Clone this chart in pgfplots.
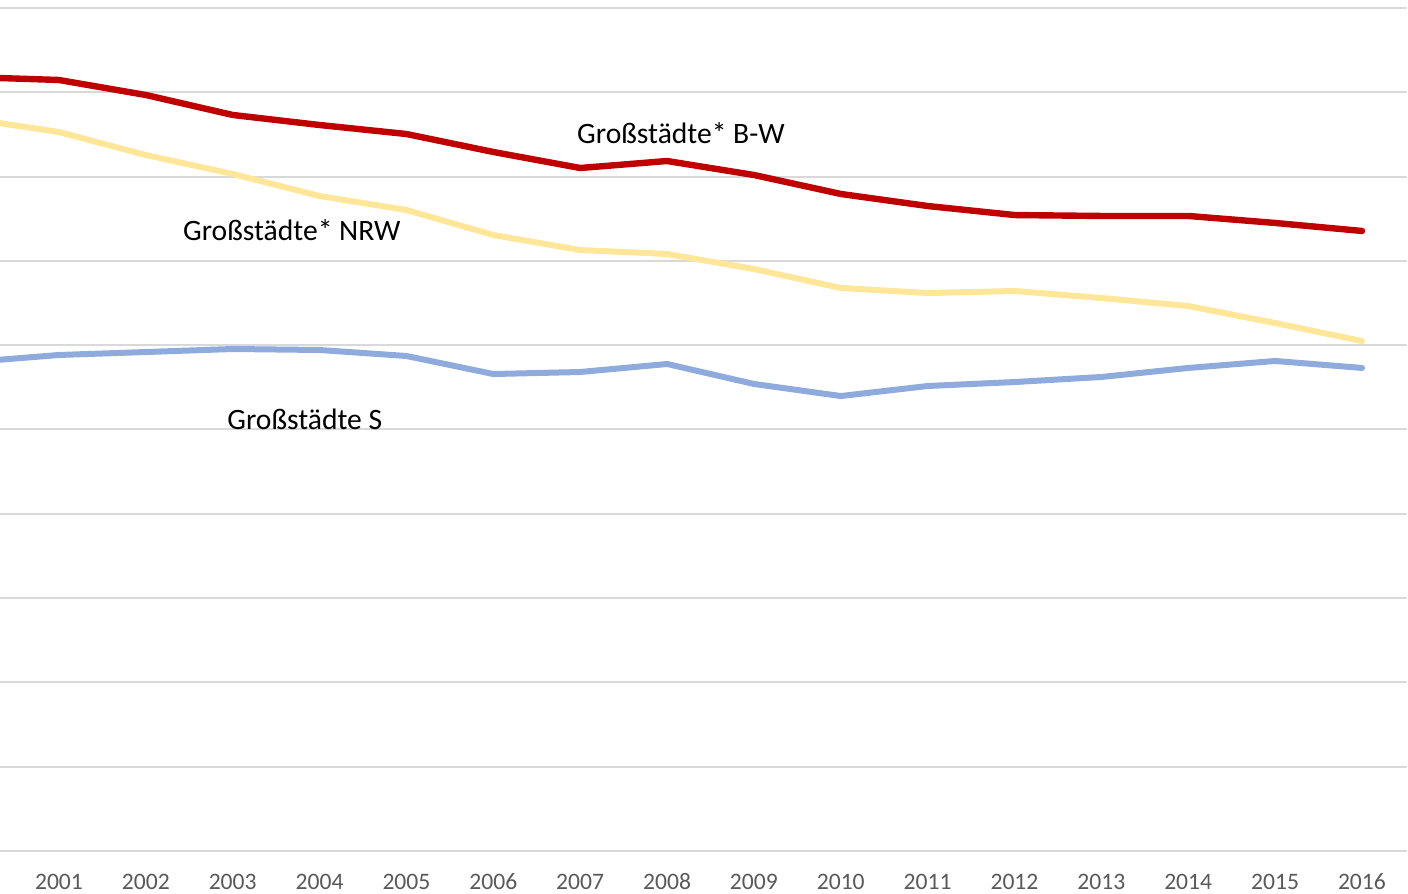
\documentclass[border=0pt]{standalone}
\usepackage{fontspec}
\setmainfont{Carlito}
\usepackage{pgfplots}
\pgfplotsset{compat=1.18}
\definecolor{bwred}{HTML}{C00000}
\definecolor{nrwyel}{HTML}{FFE699}
\definecolor{sblue}{HTML}{8FAADC}
\definecolor{gridgray}{HTML}{D9D9D9}
\definecolor{ticktext}{HTML}{595959}
\begin{document}
\begin{tikzpicture}
\begin{axis}[
    scale only axis,
    width=703pt, height=425.5pt,
    xmin=2000.321, xmax=2016.506,
    ymin=0, ymax=100.95,
    axis line style={draw=none},
    ytick={0,10,...,100},
    xtick={2001,...,2016},
    ymajorgrids,
    grid style={gridgray, line width=1pt},
    major tick length=0pt,
    tick style={draw=none},
    yticklabels={},
    xticklabel style={anchor=center, yshift=-15.5pt, font=\fontsize{11.8}{12}\selectfont, text=ticktext},
    /pgf/number format/assume math mode=true,
    /pgf/number format/1000 sep={},
    line join=round, line cap=round,
]
% Groszstaedte* B-W
\addplot[bwred, line width=3.2pt] coordinates {
 (2000,91.8) (2001,91.46) (2002,89.68) (2003,87.31) (2004,86.12) (2005,85.05)
 (2006,82.92) (2007,81.02) (2008,81.85) (2009,80.19) (2010,77.94) (2011,76.51)
 (2012,75.44) (2013,75.33) (2014,75.33) (2015,74.50) (2016,73.55)
};
% Groszstaedte* NRW
\addplot[nrwyel, line width=3pt] coordinates {
 (2000,86.83) (2001,85.29) (2002,82.56) (2003,80.31) (2004,77.70) (2005,76.04)
 (2006,73.07) (2007,71.29) (2008,70.82) (2009,69.04) (2010,66.79) (2011,66.19)
 (2012,66.43) (2013,65.60) (2014,64.65) (2015,62.63) (2016,60.50)
};
% Groszstaedte S
\addplot[sblue, line width=3pt] coordinates {
 (2000,58.01) (2001,58.84) (2002,59.19) (2003,59.55) (2004,59.43) (2005,58.72)
 (2006,56.58) (2007,56.82) (2008,57.77) (2009,55.40) (2010,53.97) (2011,55.16)
 (2012,55.63) (2013,56.23) (2014,57.30) (2015,58.13) (2016,57.30)
};
\node[font=\fontsize{14.8}{15}\selectfont] at (axis cs:2008.16,85.17) {Großstädte* B-W};
\node[font=\fontsize{14.8}{15}\selectfont] at (axis cs:2003.68,73.67) {Großstädte* NRW};
\node[font=\fontsize{14.8}{15}\selectfont] at (axis cs:2003.83,51.25) {Großstädte S};
\end{axis}
\pgfresetboundingbox
\path (0,-21.5pt) rectangle (704pt,425.5pt);
\end{tikzpicture}
\end{document}
